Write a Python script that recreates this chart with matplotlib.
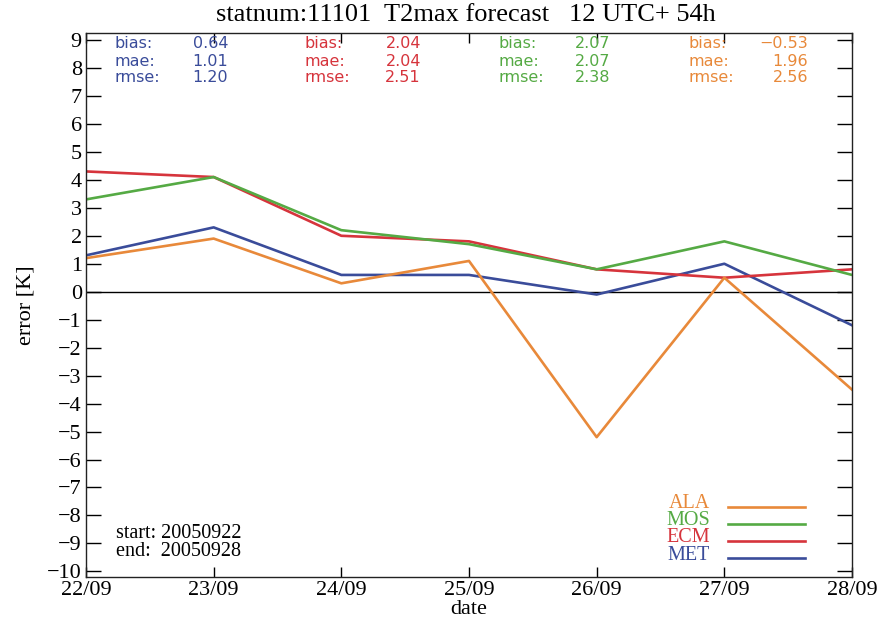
import matplotlib
matplotlib.use("Agg")
import matplotlib.pyplot as plt
import numpy as np

dates = ["22/09", "23/09", "24/09", "25/09", "26/09", "27/09", "28/09"]
ala = [1.2, 1.9, 0.3, 1.1, -5.2, 0.5, -3.5]
mos = [3.3, 4.1, 2.2, 1.7, 0.8, 1.8, 0.6]
ecm = [4.3, 4.1, 2.0, 1.8, 0.8, 0.5, 0.8]
met = [1.3, 2.3, 0.6, 0.6, -0.1, 1.0, -1.2]

models = ["ALA", "MOS", "ECM", "MET"]
colors = {"ALA": "#e8893a", "MOS": "#55aa44", "ECM": "#d6343c", "MET": "#3a4c9a"}
series = {"ALA": ala, "MOS": mos, "ECM": ecm, "MET": met}
stats_bias = {"MET": "0.64", "ECM": "2.04", "MOS": "2.07", "ALA": "\u22120.53"}
stats_mae = {"MET": "1.01", "ECM": "2.04", "MOS": "2.07", "ALA": "1.96"}
stats_rmse = {"MET": "1.20", "ECM": "2.51", "MOS": "2.38", "ALA": "2.56"}
yticks = list(range(-10, 10))

serif = "Liberation Serif"
W, H = 877, 629
fig = plt.figure(figsize=(W / 100, H / 100), dpi=100)
ax = fig.add_axes([86 / W, 1 - 577 / H, (852 - 86) / W, (577 - 33) / H])

x = np.arange(len(dates))
ax.axhline(0, color="black", lw=1.0, zorder=1)
for m in ["MET", "ECM", "MOS", "ALA"]:
    ax.plot(x, series[m], color=colors[m], lw=1.9, zorder=2)

ax.set_xlim(0, len(dates) - 1)
ax.set_ylim(-10.2, 9.25)
ax.set_xticks(x)
ax.set_xticklabels(dates, fontfamily=serif, fontsize=16)
ax.set_yticks(yticks)
ax.set_yticklabels([str(v).replace("-", "\u2212") for v in yticks], fontfamily=serif, fontsize=16)
ax.tick_params(axis="y", direction="in", length=11, width=1, right=True, left=True, pad=3)
ax.tick_params(axis="x", direction="in", length=7, width=1, top=True, bottom=True, pad=3)
for s in ax.spines.values():
    s.set_linewidth(1.0)
    s.set_color("#222222")

ax.set_xlabel("date", fontfamily=serif, fontsize=16, labelpad=0)
ax.set_ylabel("error [K]", fontfamily=serif, fontsize=16, labelpad=8)
fig.text(466 / W, 1 - 15 / H, "statnum:11101  T2max forecast   12 UTC+ 54h",
         fontfamily=serif, fontsize=19, ha="center", va="center")

# stats columns
cols = {"MET": (115, 228), "ECM": (305, 421), "MOS": (498, 610), "ALA": (688, 808)}
rows = [("bias:", stats_bias, 44), ("mae:", stats_mae, 61), ("rmse:", stats_rmse, 77)]
for m, (xl, xr) in cols.items():
    for lab, d, yy in rows:
        fig.text(xl / W, 1 - yy / H, lab, color=colors[m], fontsize=11.5,
                 fontfamily="DejaVu Sans", ha="left", va="center")
        fig.text(xr / W, 1 - yy / H, d[m], color=colors[m], fontsize=11.5,
                 fontfamily="DejaVu Sans", ha="right", va="center")

# legend
leg_y = {"ALA": 507, "MOS": 524, "ECM": 541, "MET": 558}
leg_t = {"ALA": 503, "MOS": 520.5, "ECM": 538, "MET": 555.5}
for m in models:
    yy = leg_y[m]
    fig.text(710 / W, 1 - leg_t[m] / H, m, color=colors[m], fontfamily=serif,
             fontsize=14.5, ha="right", va="center")
    fig.add_artist(plt.Line2D([728 / W, 805 / W], [1 - yy / H, 1 - yy / H],
                              color=colors[m], lw=1.9, transform=fig.transFigure))

fig.text(116 / W, 1 - 534 / H, "start: 20050922", fontfamily=serif, fontsize=14.5,
         ha="left", va="center")
fig.text(116 / W, 1 - 552 / H, "end:  20050928", fontfamily=serif, fontsize=14.5,
         ha="left", va="center")

fig.savefig("out.png", dpi=100)
